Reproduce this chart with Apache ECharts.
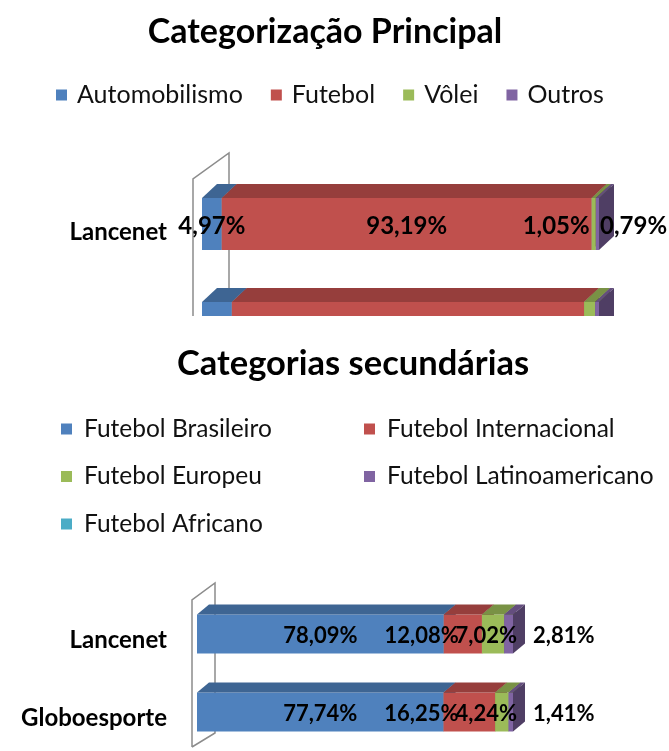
<!DOCTYPE html>
<html>
<head>
<meta charset="utf-8">
<script src="https://cdn.jsdelivr.net/npm/echarts@6/dist/echarts.min.js"></script>
<style>
html, body { margin: 0; padding: 0; background: #fff; }
#chartSec { position: absolute; left: 0; top: 0; width: 669px; height: 751px; }
#topWrap { position: absolute; left: 0; top: 0; width: 669px; height: 316px; overflow: hidden; }
#chartMain { width: 669px; height: 420px; }
</style>
</head>
<body>
<div id="chartSec"></div>
<div id="topWrap"><div id="chartMain"></div></div>
<script>
// categorias (eixo vertical)
var sites = ['Lancenet', 'Globoesporte'];

// Categorização Principal (%)
var mainNames = ['Automobilismo', 'Futebol', 'Vôlei', 'Outros'];
var mainAuto = [4.97, 7.52];
var mainFutebol = [93.19, 88.71];
var mainVolei = [1.05, 2.78];
var mainOutros = [0.79, 0.99];

// Categorias secundárias (%)
var secNames = ['Futebol Brasileiro', 'Futebol Internacional', 'Futebol Europeu', 'Futebol Latinoamericano', 'Futebol Africano'];
var secBrasileiro = [78.09, 77.74];
var secInternacional = [12.08, 16.25];
var secEuropeu = [7.02, 4.24];
var secLatino = [2.81, 1.41];
var secAfricano = [0, 0];

var colors = ['#4F81BD', '#C0504D', '#9BBB59', '#8064A2', '#4BACC6'];
var FONT = 'Lato, "Open Sans", sans-serif';

// escurece uma cor hex
function shade(hex, f) {
    var n = parseInt(hex.slice(1), 16);
    var r = Math.round(((n >> 16) & 255) * f);
    var g = Math.round(((n >> 8) & 255) * f);
    var b = Math.round((n & 255) * f);
    return 'rgb(' + r + ',' + g + ',' + b + ')';
}

function fmt(v) {
    return v.toFixed(2).replace('.', ',') + '%';
}

// barras empilhadas 100% com aparência 3D (frente, topo, lateral)
function makeSeries(names, lists, cfg) {
    var totals = sites.map(function (s, i) {
        return lists.reduce(function (acc, l) { return acc + l[i]; }, 0);
    });
    var cum = sites.map(function () { return 0; });
    return names.map(function (name, si) {
        var data = lists[si].map(function (v, ci) {
            var start = cum[ci];
            var end = start + v / totals[ci] * 100;
            cum[ci] = end;
            return [start, end, ci, v];
        });
        var rule = cfg.labels[si];
        return {
            type: 'custom',
            name: name,
            itemStyle: { color: colors[si] },
            encode: { x: [0, 1], y: 2 },
            data: data,
            renderItem: function (params, api) {
                var start = api.value(0), end = api.value(1), cat = api.value(2), raw = api.value(3);
                if (!(raw > 0)) return null;
                var a = api.coord([start, cat]);
                var b = api.coord([end, cat]);
                var h = api.size([0, 1])[1] * 0.5;
                var x0 = a[0], x1 = b[0], y0 = a[1] - h / 2, y1 = a[1] + h / 2;
                var dx = cfg.depth[0], dy = cfg.depth[1];
                var c = colors[si];
                var kids = [
                    { type: 'rect', shape: { x: x0, y: y0, width: x1 - x0, height: h }, style: { fill: c } },
                    { type: 'polygon', shape: { points: [[x0, y0], [x1, y0], [x1 + dx, y0 + dy], [x0 + dx, y0 + dy]] }, style: { fill: shade(c, 0.78) } },
                    { type: 'polygon', shape: { points: [[x1, y0], [x1 + dx, y0 + dy], [x1 + dx, y1 + dy], [x1, y1]] }, style: { fill: shade(c, 0.62) } }
                ];
                if (rule) {
                    var ref;
                    if (rule.at === 'center') ref = (x0 + x1) / 2;
                    else if (rule.at === 'start') ref = x0;
                    else if (rule.at === 'end') ref = x1;
                    else ref = api.coord([100, cat])[0];
                    kids.push({
                        type: 'text',
                        z2: 100,
                        x: ref + rule.dx,
                        y: a[1] + 2,
                        style: {
                            text: fmt(raw),
                            fill: '#000',
                            fontFamily: FONT,
                            fontSize: cfg.labelSize,
                            fontWeight: 'bold',
                            align: rule.align,
                            verticalAlign: 'middle'
                        }
                    });
                }
                return { type: 'group', children: kids };
            }
        };
    });
}

function wallLine(g, w) {
    var L = g.left, T = g.top, B = g.top + g.height;
    return {
        type: 'polyline',
        z: 0,
        shape: {
            points: [[L + w.fx, B + w.fb], [L + w.fx, T + w.ft], [L + w.bx, T + w.bt], [L + w.bx, B + w.bb], [L + w.fx, B + w.fb]]
        },
        style: { stroke: '#8c8c8c', lineWidth: 1.5, fill: null }
    };
}

function yAxisCfg(margin, lh) {
    return {
        type: 'category',
        data: sites,
        inverse: true,
        axisLine: { show: false },
        axisTick: { show: false },
        axisLabel: {
            margin: margin,
            color: '#000',
            fontFamily: FONT,
            fontSize: 24,
            fontWeight: 'bold',
            verticalAlign: 'top',
            lineHeight: lh
        }
    };
}

// ---- gráfico principal ----
var mainGrid = { left: 202, top: 172, width: 397, height: 208 };
var mainChart = echarts.init(document.getElementById('chartMain'));
mainChart.setOption({
    animation: false,
    title: {
        text: 'Categorização Principal',
        left: 320, top: 7, textAlign: 'center',
        textStyle: { fontFamily: FONT, fontSize: 34, lineHeight: 40, fontWeight: 'bold', color: '#000' }
    },
    legend: {
        data: mainNames,
        left: 51, top: 76,
        icon: 'rect', itemWidth: 11, itemHeight: 11, itemGap: 28,
        textStyle: { fontFamily: FONT, fontSize: 25, lineHeight: 28, color: '#111', padding: [0, 0, 0, 5] }
    },
    grid: mainGrid,
    xAxis: { type: 'value', min: 0, max: 100, show: false },
    yAxis: yAxisCfg(35, 16),
    graphic: [wallLine(mainGrid, { fx: -9, bx: 27, ft: 7, bt: -19, fb: 10, bb: -16 })],
    series: makeSeries(mainNames, [mainAuto, mainFutebol, mainVolei, mainOutros], {
        depth: [15, -14],
        labelSize: 24,
        labels: [
            { at: 'center', align: 'center', dx: 0 },
            { at: 'center', align: 'center', dx: 0 },
            { at: 'start', align: 'right', dx: -2 },
            { at: 'barEnd', align: 'left', dx: 1 }
        ]
    })
});

// ---- categorias secundárias ----
var secGrid = { left: 197, top: 595, width: 316, height: 156 };
var secChart = echarts.init(document.getElementById('chartSec'));
var legendText = { fontFamily: FONT, fontSize: 24.5, color: '#111', lineHeight: 26, padding: [0, 0, 0, 7] };
secChart.setOption({
    animation: false,
    title: {
        text: 'Categorias secundárias',
        left: 348, top: 339, textAlign: 'center',
        textStyle: { fontFamily: FONT, fontSize: 34.5, lineHeight: 40, fontWeight: 'bold', color: '#000' }
    },
    legend: [
        {
            data: [secNames[0], secNames[2], secNames[4]],
            orient: 'vertical', left: 56, top: 411,
            icon: 'rect', itemWidth: 11, itemHeight: 11, itemGap: 21.5,
            textStyle: legendText
        },
        {
            data: [secNames[1], secNames[3]],
            orient: 'vertical', left: 359, top: 411,
            icon: 'rect', itemWidth: 11, itemHeight: 11, itemGap: 21.5,
            textStyle: legendText
        }
    ],
    grid: secGrid,
    xAxis: { type: 'value', min: 0, max: 100, show: false },
    yAxis: yAxisCfg(30, 12),
    graphic: [wallLine(secGrid, { fx: -5, bx: 18, ft: 5, bt: -12, fb: -4, bb: -18 })],
    series: makeSeries(secNames, [secBrasileiro, secInternacional, secEuropeu, secLatino, secAfricano], {
        depth: [12, -10],
        labelSize: 22,
        labels: [
            { at: 'center', align: 'center', dx: 0 },
            { at: 'start', align: 'right', dx: 15 },
            { at: 'barEnd', align: 'right', dx: 4 },
            { at: 'barEnd', align: 'left', dx: 20 },
            null
        ]
    })
});
</script>
</body>
</html>
